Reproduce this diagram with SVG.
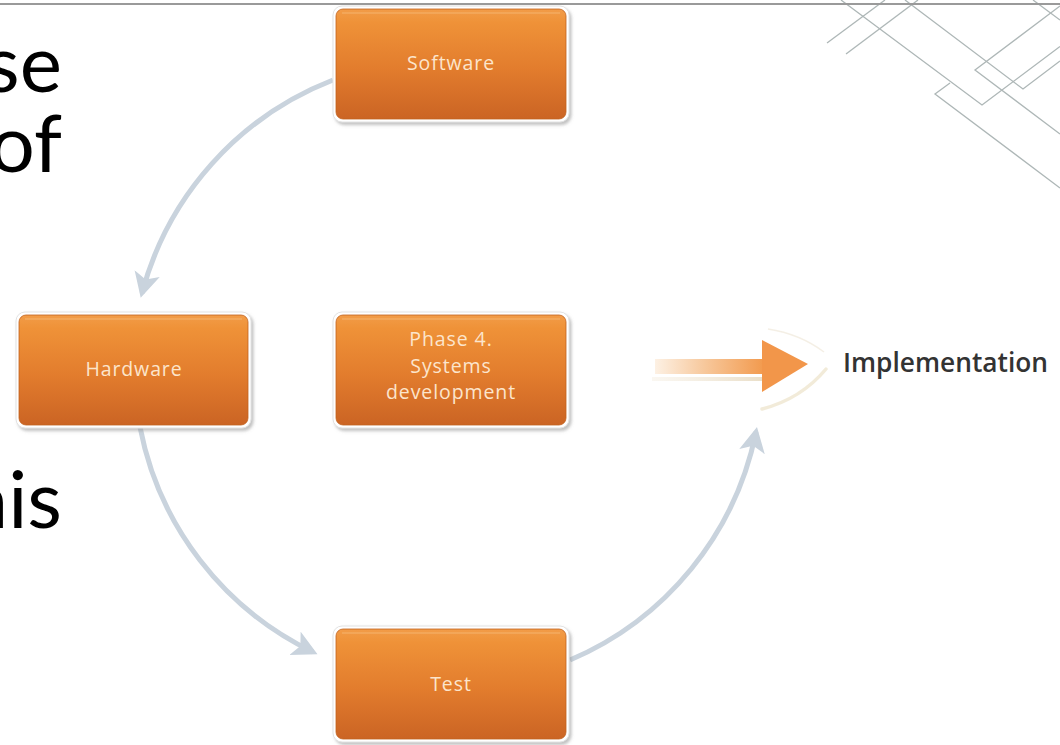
<svg xmlns="http://www.w3.org/2000/svg" width="1060" height="745" viewBox="0 0 1060 745">
  <defs>
    <linearGradient id="orangeBody" x1="0" y1="0" x2="0" y2="1">
      <stop offset="0" stop-color="#F29C48"/>
      <stop offset="0.12" stop-color="#EF9238"/>
      <stop offset="0.55" stop-color="#E27C2D"/>
      <stop offset="1" stop-color="#CB6424"/>
    </linearGradient>
    <linearGradient id="shaftFade" x1="0" y1="0" x2="1" y2="0">
      <stop offset="0" stop-color="#FDF1E4"/>
      <stop offset="0.45" stop-color="#F7C89C"/>
      <stop offset="1" stop-color="#F2994C"/>
    </linearGradient>
    <linearGradient id="shadowFade" x1="0" y1="0" x2="1" y2="0">
      <stop offset="0" stop-color="#F3EBDD" stop-opacity="0.4"/>
      <stop offset="1" stop-color="#EADFC9"/>
    </linearGradient>
    <filter id="frameShadow" x="-10%" y="-10%" width="125%" height="130%">
      <feDropShadow dx="2" dy="2.5" stdDeviation="1.6" flood-color="#8f8f8f" flood-opacity="0.55"/>
    </filter>
    <marker id="cycleHead" markerUnits="userSpaceOnUse" markerWidth="28" markerHeight="28" refX="20" refY="13" orient="auto">
      <path d="M0,0 L25,13 L0,26 L6,13 Z" fill="#C9D3DD"/>
    </marker>
    <style>
      .frame { fill: #ffffff; stroke: #e2e2e2; stroke-width: 1; filter: url(#frameShadow); }
      .body { fill: url(#orangeBody); stroke: #C2621F; stroke-width: 0.8; }
      .gloss { fill: none; stroke: #F7B46E; stroke-width: 1.5; opacity: 0.7; }
      .label { font-family: "Open Sans", "Lato", sans-serif; font-size: 19.5px; letter-spacing: 0.9px; fill: #FCE5CC; text-anchor: middle; }
      .cycle { fill: none; stroke: #C9D3DD; stroke-width: 5; marker-end: url(#cycleHead); }
      .deco { fill: none; stroke: #AEB7B7; stroke-width: 1.3; }
      .slide { font-family: "Lato", "Open Sans", sans-serif; font-size: 80px; fill: #000000; text-anchor: end; }
    </style>
  </defs>

  <rect x="0" y="0" width="1060" height="745" fill="#ffffff"/>

  <!-- corner ornament -->
  <g id="ornament">
    <path class="deco" d="M827,43 L885,0"/>
    <path class="deco" d="M846,54 L918,0"/>
    <path class="deco" d="M841,0 L982,105 L1060,46.5"/>
    <path class="deco" d="M905,0 L1023,89 L1060,61"/>
    <path class="deco" d="M1060,6 L975,70 L1060,134"/>
    <path class="deco" d="M950,83 L935,94 L1060,188"/>
    <path class="deco" d="M1033,0 L1060,20"/>
  </g>

  <!-- title rule -->
  <rect x="0" y="3" width="1060" height="2" fill="#9A9A9A"/>

  <!-- slide body text -->
  <g id="slide-text">
    <text class="slide" x="62" y="92">se</text>
    <text class="slide" x="62" y="172">of</text>
    <text class="slide" x="62" y="528">his</text>
  </g>

  <!-- cycle connectors -->
  <g id="connectors">
    <path class="cycle" d="M333,80 A316,316 0 0 0 142,293"/>
    <path class="cycle" d="M140,427 A316,316 0 0 0 313,652"/>
    <path class="cycle" d="M570,660 A316,316 0 0 0 756,432"/>
  </g>

  <g id="node-software">
    <rect class="frame" x="333" y="6" width="236" height="116" rx="9"/>
    <rect class="body" x="336" y="9" width="230" height="110" rx="7"/>
    <line class="gloss" x1="342" y1="13" x2="560" y2="13"/>
    <text class="label" x="451" y="70">Software</text>
  </g>

  <g id="node-hardware">
    <rect class="frame" x="16" y="312" width="235" height="116" rx="9"/>
    <rect class="body" x="19" y="315" width="229" height="110" rx="7"/>
    <line class="gloss" x1="25" y1="319" x2="242" y2="319"/>
    <text class="label" x="134" y="376">Hardware</text>
  </g>

  <g id="node-phase4">
    <rect class="frame" x="333" y="312" width="236" height="116" rx="9"/>
    <rect class="body" x="336" y="315" width="230" height="110" rx="7"/>
    <line class="gloss" x1="342" y1="319" x2="560" y2="319"/>
    <text class="label" x="451" y="346">Phase 4.</text>
    <text class="label" x="451" y="372.5">Systems</text>
    <text class="label" x="451" y="399">development</text>
  </g>

  <g id="node-test">
    <rect class="frame" x="333" y="626" width="236" height="116" rx="9"/>
    <rect class="body" x="336" y="629" width="230" height="110" rx="7"/>
    <line class="gloss" x1="342" y1="633" x2="560" y2="633"/>
    <text class="label" x="451" y="691">Test</text>
  </g>

  <!-- outcome arrow -->
  <g id="outcome-arrow">
    <path d="M768,329 Q800,334 824,352" fill="none" stroke="#ECE4D3" stroke-width="1.5" opacity="0.6"/>
    <path d="M762,409 Q801,399 826,369" fill="none" stroke="#EDE4CC" stroke-width="3.5" stroke-linecap="round" opacity="0.75"/>
    <rect x="652" y="377" width="110" height="4" fill="url(#shadowFade)"/>
    <rect x="655" y="359" width="110" height="15" fill="url(#shaftFade)"/>
    <polygon points="762,340 808,364 762,392" fill="#F2964A"/>
  </g>

  <g id="node-implementation">
    <text x="843" y="372" font-family="'Open Sans', 'Lato', sans-serif" font-size="26.3" font-weight="600" fill="#333333">Implementation</text>
  </g>
</svg>
